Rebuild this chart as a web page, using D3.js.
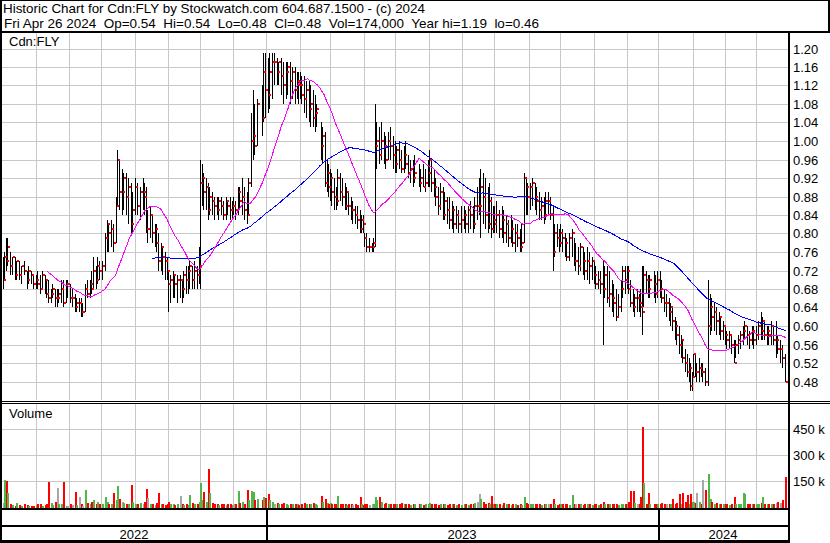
<!DOCTYPE html>
<html>
<head>
<meta charset="utf-8">
<script src="https://cdnjs.cloudflare.com/ajax/libs/d3/7.8.5/d3.min.js"></script>
<style>
  body { margin: 0; background: #fff; }
  svg { display: block; font-family: "Liberation Sans", Arial, sans-serif; }
  text { white-space: pre; }
</style>
</head>
<body>
<div id="chart-container"></div>
<script>
const _ = null;
const start_date = "2022-05-02";
const end_date = "2024-04-26";

// one entry per weekday, prices in cents, _ = no trade that day
const high = [
  75,76,79,79,_,76,75,_,75,74,_,74,73,_,74,_,72,73,_,72,71,_, // may 22
  71,72,_,71,72,_,71,70,70,_,68,69,_,68,68,68,_,70,70,_,70,70, // jun
  _,69,68,_,67,66,_,66,66,65,_,69,70,_,70,72,75,_,73,75,74, // jul
  _,74,_,80,83,82,_,83,82,_,88,98,96,_,94,93,_,93,92,_,91,89,_, // aug
  92,91,_,90,_,92,91,90,85,_,86,84,_,82,82,80,_,78,77,_,76,75, // sep
  72,71,_,72,71,_,71,_,71,70,72,_,73,73,74,_,73,74,_,73,77, // oct
  96,95,93,_,92,91,90,_,89,88,_,88,88,_,88,87,_,88,87,_,88,87, // nov
  88,87,_,90,90,_,92,90,_,89,92,_,106,111,108,_,109,_,_,112,119,119, // dec
  _,118,119,_,119,119,_,118,117,_,118,117,_,117,117,_,117,116,_,116,115,115, // jan 23
  115,114,_,114,113,_,113,112,_,111,110,108,_,_,104,103,_,102,96,95, // feb
  94,93,_,92,90,94,_,93,92,_,91,90,89,_,88,87,_,86,86,_,85,84,84, // mar
  80,80,_,79,_,78,79,108,104,_,103,104,_,102,101,_,102,103,_,101, // apr
  100,99,_,100,98,_,99,100,_,97,96,_,96,97,_,_,95,94,_,95,94,_,96, // may
  98,96,_,94,92,_,90,91,_,90,89,_,88,88,_,87,86,_,86,85,_,86, // jun
  _,86,85,_,86,87,_,86,88,_,90,92,94,_,93,92,_,90,91,88,86, // jul
  86,87,_,85,_,86,85,_,84,83,_,84,83,_,82,82,_,81,82,_,93,92,91, // aug
  _,91,92,_,91,90,_,89,88,_,88,89,_,89,88,_,86,82,_,82,81, // sep
  82,81,_,80,79,_,80,_,81,79,78,_,77,78,_,77,76,_,77,76,_,75, // oct
  74,73,_,72,72,_,74,73,_,73,72,_,70,69,_,68,67,_,70,73,_,73, // nov
  73,73,70,_,68,67,_,68,67,68,73,73,_,72,71,71,_,_,72,71,72, // dec
  _,72,70,_,68,67,_,66,65,64,_,62,61,_,60,58,57,_,55,54,53,52,50, // jan 24
  54,54,52,_,53,52,52,_,51,_,70,67,66,_,65,64,_,63,62,_,61, // feb
  60,59,_,59,58,_,57,57,_,58,59,_,60,61,_,60,59,_,60,60,_, // mar
  60,61,_,63,62,61,_,60,60,_,61,60,_,61,58,_,57,56,_,54 // apr
];
const low = [
  68,70,72,73,_,71,71,_,70,70,_,70,69,_,71,_,68,69,_,69,68,_,
  68,68,_,67,68,_,67,66,65,_,65,66,_,64,64,65,_,65,64,_,65,66,
  _,65,64,_,63,63,_,63,62,62,_,63,66,_,66,67,68,_,68,69,70,
  _,70,_,72,76,76,_,77,76,_,78,86,85,_,84,85,_,84,82,_,80,80,_,
  84,84,_,83,_,85,84,80,78,_,79,78,_,77,76,72,_,72,71,_,70,70,
  63,65,_,66,66,_,65,_,66,65,66,_,67,67,68,_,68,68,_,68,69,
  68,86,85,_,85,83,84,_,84,83,_,84,83,_,84,83,_,83,84,_,83,83,
  84,83,_,84,85,_,84,83,_,82,84,_,90,96,97,_,99,_,_,101,104,105,
  _,106,107,_,109,112,_,112,112,_,110,108,_,109,110,_,108,109,_,108,109,108,
  109,108,_,106,105,_,104,103,_,103,102,103,_,_,96,95,_,90,89,88,
  87,86,_,85,85,86,_,87,86,_,85,85,84,_,83,82,_,82,81,_,80,80,80,
  77,76,_,76,_,76,76,77,94,_,95,96,_,95,94,_,96,96,_,94,
  93,93,_,94,93,_,93,94,_,92,91,_,90,91,_,_,90,89,_,90,89,_,90,
  90,89,_,88,86,_,84,85,_,83,83,_,82,81,_,81,80,_,81,80,_,80,
  _,81,80,_,80,81,_,80,81,_,83,84,79,_,82,81,_,80,81,79,80,
  80,80,_,79,_,79,78,_,78,77,_,78,77,_,76,77,_,76,76,_,78,84,84,
  _,85,86,_,85,84,_,83,83,_,82,83,_,84,83,_,72,75,_,77,76,
  77,76,_,75,74,_,74,_,75,73,72,_,71,72,_,71,70,_,70,69,_,70,
  69,68,_,68,67,_,56,66,_,65,64,_,63,62,_,61,62,_,63,66,_,67,
  68,67,64,_,63,62,_,63,63,62,58,64,_,67,66,66,_,_,66,65,66,
  _,66,65,_,63,62,_,61,60,59,_,57,56,_,54,53,52,_,50,49,48,46,46,
  49,49,48,_,48,49,48,_,47,_,47,58,59,_,59,58,_,58,57,_,57,
  56,55,_,55,54,_,52,53,_,54,55,_,56,57,_,56,55,_,56,55,_,
  56,57,_,57,57,57,_,56,56,_,56,56,_,53,54,_,52,51,_,48
];
const close = [
  70,75,74,77,_,73,75,_,71,74,_,71,73,_,72,_,70,72,_,71,69,_,
  70,69,_,68,71,_,70,67,66,_,67,68,_,66,66,67,_,68,65,_,69,69,
  _,66,66,_,64,65,_,65,63,63,_,68,67,_,69,68,72,_,70,73,72,
  _,73,_,79,82,80,_,81,78,_,86,96,89,_,89,92,_,88,90,_,82,85,_,
  90,86,_,89,_,89,88,81,81,_,84,80,_,81,78,74,_,77,75,_,74,72,
  69,70,_,71,69,_,70,_,70,68,71,_,70,72,73,_,70,72,_,71,73,
  91,92,89,_,90,85,88,_,87,86,_,85,87,_,86,84,_,87,86,_,85,86,
  86,85,_,89,87,_,88,85,_,84,91,_,100,101,99,_,108,_,_,105,115,111,
  _,110,115,_,117,117,_,115,117,_,114,112,_,115,116,_,113,115,_,111,113,112,
  112,110,_,109,111,_,107,108,_,105,106,107,_,_,99,101,_,91,93,90,
  92,89,_,88,87,92,_,89,88,_,86,89,86,_,85,85,_,84,83,_,81,83,82,
  79,77,_,77,_,77,78,99,100,_,97,100,_,99,96,_,100,99,_,97,
  95,98,_,96,94,_,97,95,_,93,94,_,92,93,_,_,91,92,_,90,91,_,93,
  96,91,_,90,88,_,86,89,_,84,87,_,85,83,_,85,82,_,84,82,_,83,
  _,84,82,_,85,84,_,82,86,_,86,86,90,_,88,84,_,82,87,81,83,
  82,84,_,81,_,83,80,_,82,79,_,81,78,_,80,79,_,77,78,_,92,90,88,
  _,90,91,_,88,87,_,85,86,_,84,87,_,87,84,_,76,80,_,79,78,
  80,79,_,78,75,_,79,_,80,74,74,_,73,77,_,74,72,_,74,73,_,74,
  71,69,_,70,69,_,68,71,_,66,67,_,66,65,_,62,64,_,68,72,_,70,
  72,68,65,_,64,66,_,66,65,64,63,71,_,70,68,70,_,_,69,67,70,
  _,68,66,_,65,65,_,63,64,61,_,60,58,_,56,57,53,_,52,50,51,47,49,
  54,50,50,_,51,50,50,_,48,_,60,64,62,_,63,61,_,62,59,_,60,
  58,57,_,58,56,_,52,56,_,57,58,_,59,60,_,58,57,_,59,57,_,
  58,60,_,59,61,58,_,59,58,_,60,57,_,57,55,_,55,53,_,48
];
// thousands of shares
const volume = [
  25,155,150,80,_,15,12,_,8,25,_,10,5,_,15,_,12,5,_,8,6,_,
  10,20,_,15,8,_,12,20,146,_,25,10,_,30,111,20,_,15,146,_,8,5,
  _,15,10,_,88,12,_,60,20,8,_,98,25,_,15,30,40,_,20,30,15,
  _,15,_,60,30,20,_,15,81,_,40,121,45,_,30,25,_,20,15,_,127,30,_,
  20,15,_,25,_,15,30,104,50,_,20,15,_,10,25,81,_,15,20,_,10,15,
  30,15,_,20,10,_,15,_,64,20,10,_,15,12,71,_,25,20,_,15,30,
  140,40,88,_,30,219,81,_,25,15,_,20,12,_,20,15,_,10,15,_,20,10,
  15,20,_,92,25,_,30,20,_,98,40,_,92,85,40,_,45,_,_,40,60,50,
  _,75,40,_,30,20,_,25,15,_,20,25,_,15,10,_,20,15,_,20,15,12,
  15,20,_,25,15,_,20,15,_,25,20,10,_,_,63,30,_,45,25,20,
  25,20,_,15,20,63,_,20,15,_,20,10,15,_,20,12,_,15,10,_,60,15,10,
  15,20,_,10,_,15,20,60,40,_,55,30,_,20,25,_,15,20,_,15,
  20,15,_,20,25,_,15,20,_,15,10,_,20,15,_,_,20,15,_,10,15,_,20,
  25,20,_,15,20,_,10,15,_,20,15,_,10,15,_,20,15,_,10,15,_,10,
  _,15,20,_,10,15,_,20,25,_,30,75,45,_,30,20,_,25,20,63,15,
  20,15,_,20,_,10,25,_,15,20,_,10,15,_,20,10,_,15,10,_,57,25,20,
  _,20,15,_,20,15,_,20,10,_,15,20,_,15,20,_,45,20,_,10,15,
  15,20,_,15,20,_,10,_,68,20,15,_,20,15,_,10,15,_,20,15,_,10,
  15,20,_,10,15,_,30,15,_,20,15,_,20,15,_,20,10,_,15,20,_,15,
  20,30,92,_,92,25,_,20,15,55,460,140,_,20,81,15,_,_,20,15,20,
  _,20,25,_,20,15,_,20,15,45,_,20,25,_,75,20,80,_,30,70,20,75,30,
  30,25,81,_,30,20,156,_,98,_,190,45,30,_,20,25,_,15,20,_,15,
  20,15,_,10,20,_,60,20,_,15,20,_,81,75,_,15,20,_,15,20,_,
  15,20,_,25,60,20,_,15,20,_,15,20,_,25,30,_,25,40,_,174
];

const price_ticks = [0.48, 0.52, 0.56, 0.60, 0.64, 0.68, 0.72, 0.76, 0.80, 0.84,
  0.88, 0.92, 0.96, 1.00, 1.04, 1.08, 1.12, 1.16, 1.20];
const volume_ticks = [150000, 300000, 450000];
const volume_tick_labels = ["150 k", "300 k", "450 k"];
const title_text = "Historic Chart for Cdn:FLY by Stockwatch.com 604.687.1500 - (c) 2024";
const quote_text = "Fri Apr 26 2024  Op=0.54  Hi=0.54  Lo=0.48  Cl=0.48  Vol=174,000  Year hi=1.19  lo=0.46";
const symbol_text = "Cdn:FLY";
const fast_days = 30;
const slow_days = 100;

const render_chart = () => {
  let width = 830, height = 543;
  let plot = { left: 2, right: 788, top: 33, price_bottom: 400, vol_top: 404, vol_bottom: 508 };

  let days = d3.utcDay
    .range(new Date(start_date), d3.utcDay.offset(new Date(end_date), 1))
    .filter((d) => d.getUTCDay() != 0 && d.getUTCDay() != 6);

  let data = days.map((d, i) => ({
    i: i,
    date: d,
    high: high[i] == null ? null : high[i] / 100,
    low: low[i] == null ? null : low[i] / 100,
    close: close[i] == null ? null : close[i] / 100,
    volume: volume[i] == null ? null : volume[i] * 1000,
  }));
  let trades = data.filter((d) => d.close != null);

  // up / down / unchanged against previous traded close
  trades.forEach((d, k) => {
    let prev = k > 0 ? trades[k - 1].close : d.close;
    d.color = d.close > prev ? "#4db84a" : d.close < prev ? "#ff0000" : "#a8a8a8";
  });

  // moving averages over weekdays, carrying the last close
  let last = null;
  let filled = data.map((d) => (last = d.close != null ? d.close : last));
  const moving_avg = (n) =>
    data
      .filter((d) => d.i >= n - 1)
      .map((d) => ({ i: d.i, v: d3.mean(filled.slice(d.i - n + 1, d.i + 1)) }));

  let xScale = d3.scaleLinear().domain([0, days.length - 1]).range([3, 785.5]);
  let yScale = d3.scaleLinear().domain([0.48, 1.2]).range([381.5, 48.5]);
  let vScale = d3.scaleLinear().domain([0, 600000]).range([507, 403]);
  let px = (i) => Math.floor(xScale(i));

  let svg = d3
    .select("#chart-container")
    .append("svg")
    .attr("width", width)
    .attr("height", height);

  svg.append("rect").attr("width", width).attr("height", height).attr("fill", "#fff");

  let month_starts = data.filter(
    (d, i) => i > 0 && d.date.getUTCMonth() != data[i - 1].date.getUTCMonth()
  );
  let year_starts = month_starts.filter((d) => d.date.getUTCMonth() == 0);

  // grid
  let grid = svg.append("g").attr("fill", "#c8c8c8");
  grid.selectAll(".hgrid")
    .data(price_ticks)
    .enter()
    .append("rect")
    .attr("x", plot.left)
    .attr("y", (d) => Math.round(yScale(d)))
    .attr("width", plot.right - plot.left)
    .attr("height", 1);
  grid.selectAll(".vgrid")
    .data(volume_ticks)
    .enter()
    .append("rect")
    .attr("x", plot.left)
    .attr("y", (d) => Math.round(vScale(d)))
    .attr("width", plot.right - plot.left)
    .attr("height", 1);
  grid.selectAll(".mgrid-p")
    .data(month_starts)
    .enter()
    .append("rect")
    .attr("x", (d) => px(d.i))
    .attr("y", plot.top)
    .attr("width", 1)
    .attr("height", plot.price_bottom - plot.top);
  grid.selectAll(".mgrid-v")
    .data(month_starts)
    .enter()
    .append("rect")
    .attr("x", (d) => px(d.i))
    .attr("y", plot.vol_top)
    .attr("width", 1)
    .attr("height", plot.vol_bottom - plot.vol_top);

  // volume bars
  svg.append("g")
    .selectAll("rect")
    .data(trades)
    .enter()
    .append("rect")
    .attr("x", (d) => px(d.i))
    .attr("y", (d) => Math.round(vScale(d.volume)))
    .attr("width", 2)
    .attr("height", (d) => plot.vol_bottom - Math.round(vScale(d.volume)))
    .attr("fill", (d) => d.color);

  // high-low bars
  svg.append("g")
    .selectAll("rect")
    .data(trades)
    .enter()
    .append("rect")
    .attr("x", (d) => px(d.i))
    .attr("y", (d) => Math.round(yScale(d.high)))
    .attr("width", 1)
    .attr("height", (d) => Math.max(1, Math.round(yScale(d.low)) - Math.round(yScale(d.high))))
    .attr("fill", "#000");

  let line = d3
    .line()
    .x((d) => xScale(d.i))
    .y((d) => yScale(d.v));

  svg.append("path")
    .datum(moving_avg(slow_days))
    .attr("d", line)
    .attr("fill", "none")
    .attr("stroke", "#0000ff")
    .attr("stroke-width", 1)
    .style("shape-rendering", "crispEdges");
  svg.append("path")
    .datum(moving_avg(fast_days))
    .attr("d", line)
    .attr("fill", "none")
    .attr("stroke", "#ff00ff")
    .attr("stroke-width", 1)
    .style("shape-rendering", "crispEdges");

  // close ticks
  svg.append("g")
    .selectAll("rect")
    .data(trades)
    .enter()
    .append("rect")
    .attr("x", (d) => px(d.i) + 1)
    .attr("y", (d) => Math.round(yScale(d.close)) - 1)
    .attr("width", 2)
    .attr("height", 2)
    .attr("fill", "#ff0000");

  // frame
  let frame = svg.append("g").attr("fill", "#000");
  const box = (x, y, w, h) => frame.append("rect").attr("x", x).attr("y", y).attr("width", w).attr("height", h);
  box(0, 0, width, 1);
  box(0, 0, 2, height);
  box(828, 0, 2, 32);
  box(0, 31, width, 2);
  box(788, 31, 2, height - 31);
  box(0, 401, width, 1);
  box(0, 403, width, 1);
  box(0, 508, 790, 2);
  box(0, 525, 790, 2);
  box(0, 540, 790, 3);
  year_starts.forEach((d) => box(px(d.i), 508, 2, 34));

  // texts
  let txt = svg.append("g").attr("fill", "#000").style("font-size", "13px");
  txt.append("text")
    .attr("x", 3)
    .attr("y", 13)
    .attr("textLength", 422)
    .attr("lengthAdjust", "spacingAndGlyphs")
    .text(title_text);
  txt.append("text")
    .attr("x", 4)
    .attr("y", 28)
    .attr("textLength", 535)
    .attr("lengthAdjust", "spacingAndGlyphs")
    .text(quote_text);
  txt.append("text").attr("x", 9).attr("y", 46).text(symbol_text);
  txt.append("text").attr("x", 9).attr("y", 418).text("Volume");

  txt.selectAll(".ptick")
    .data(price_ticks)
    .enter()
    .append("text")
    .attr("x", 793)
    .attr("y", (d) => Math.round(yScale(d)) + 5)
    .text((d) => d.toFixed(2));
  txt.selectAll(".vtick")
    .data(volume_ticks)
    .enter()
    .append("text")
    .attr("x", 793)
    .attr("y", (d) => Math.round(vScale(d)) + 5)
    .text((d, i) => volume_tick_labels[i]);

  let bounds = [2].concat(year_starts.map((d) => px(d.i)), [788]);
  txt.selectAll(".year")
    .data(bounds.slice(0, -1))
    .enter()
    .append("text")
    .attr("x", (d, i) => (d + bounds[i + 1]) / 2)
    .attr("y", 539)
    .attr("text-anchor", "middle")
    .text((d, i) => days[0].getUTCFullYear() + i);
};

render_chart();
</script>
</body>
</html>
